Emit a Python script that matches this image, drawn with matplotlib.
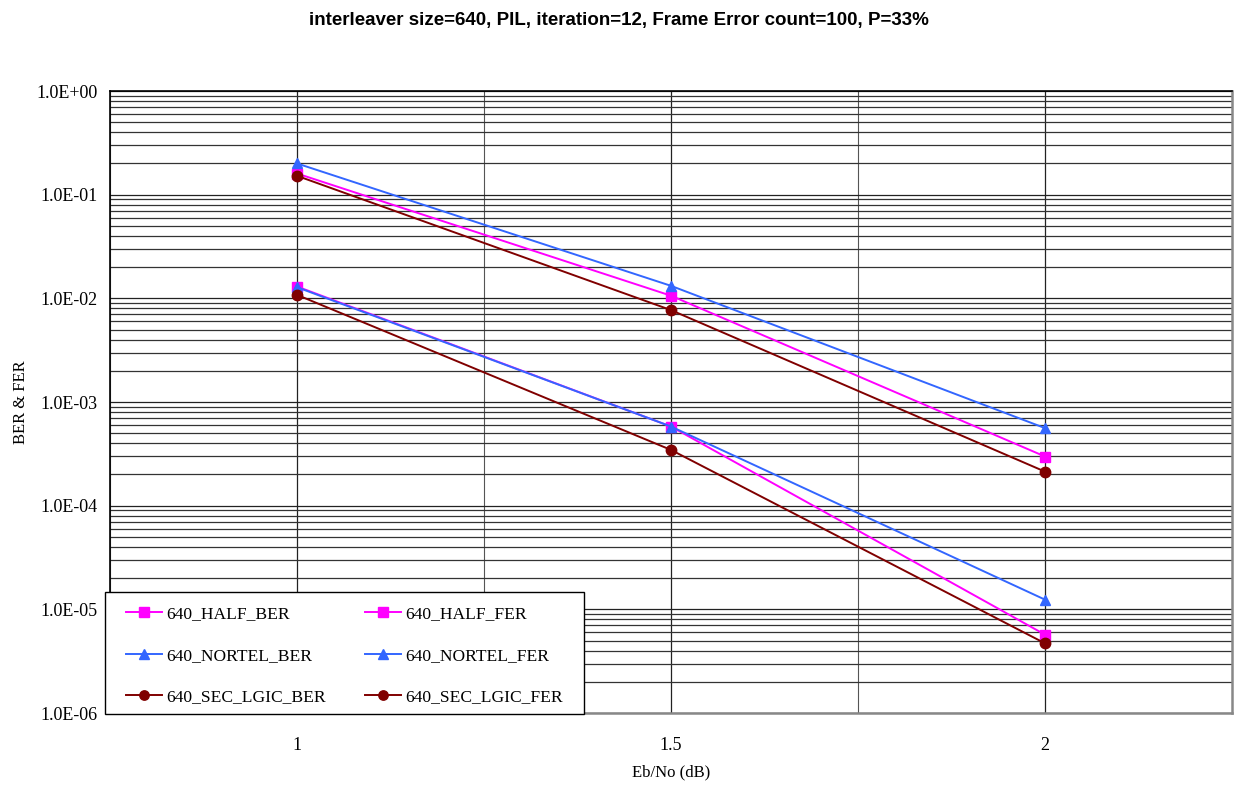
import numpy as np
import matplotlib
matplotlib.use("Agg")
import matplotlib.pyplot as plt
from matplotlib.patches import Rectangle
from matplotlib.ticker import FixedLocator, LogLocator, NullFormatter

ebno = [1.0, 1.5, 2.0]

half_ber = [1.30e-2, 5.8e-4, 5.7e-6]
nortel_ber = [1.28e-2, 5.8e-4, 1.24e-5]
sec_ber = [1.08e-2, 3.45e-4, 4.7e-6]

half_fer = [1.60e-1, 1.06e-2, 2.98e-4]
nortel_fer = [2.00e-1, 1.32e-2, 5.6e-4]
sec_fer = [1.52e-1, 7.7e-3, 2.13e-4]

labels = ["640_HALF_BER", "640_NORTEL_BER", "640_SEC_LGIC_BER",
          "640_HALF_FER", "640_NORTEL_FER", "640_SEC_LGIC_FER"]
series = [half_ber, nortel_ber, sec_ber, half_fer, nortel_fer, sec_fer]
colors = ["#FF00FF", "#3366FF", "#800000"] * 2
markers = ["s", "^", "o"] * 2

yticklabels = ["1.0E-06", "1.0E-05", "1.0E-04", "1.0E-03", "1.0E-02", "1.0E-01", "1.0E+00"]

serif = ["Liberation Serif", "DejaVu Serif"]
W, H = 1237, 787

fig = plt.figure(figsize=(W / 100, H / 100), dpi=100)
ax = fig.add_axes([110 / W, 1 - 713 / H, (1232 - 110) / W, (713 - 91) / H])

for vals, lab, c, m in zip(series, labels, colors, markers):
    ax.plot(ebno, vals, color=c, marker=m, markersize=7.5, lw=1.4, label=lab, zorder=3)

ax.set_yscale("log")
ax.set_ylim(1e-6, 1)
ax.set_xlim(0.75, 2.25)

ax.xaxis.set_major_locator(FixedLocator([1.0, 1.5, 2.0]))
ax.xaxis.set_minor_locator(FixedLocator([0.75, 1.25, 1.75]))
ax.set_xticklabels(["1", "1.5", "2"], fontfamily=serif, fontsize=13)
ax.yaxis.set_major_locator(FixedLocator([10.0 ** k for k in range(-6, 1)]))
ax.yaxis.set_minor_locator(LogLocator(base=10, subs=np.arange(2, 10), numticks=20))
ax.yaxis.set_minor_formatter(NullFormatter())
ax.set_yticklabels(yticklabels, fontfamily=serif, fontsize=13)

ax.tick_params(axis="both", which="both", length=0)
ax.tick_params(axis="x", pad=17)
ax.tick_params(axis="y", pad=9)

ax.grid(True, which="major", axis="both", color="#222222", lw=0.9)
ax.grid(True, which="minor", axis="y", color="#333333", lw=0.9)
ax.grid(True, which="minor", axis="x", color="#555555", lw=0.8)
ax.set_axisbelow(True)

for side in ["left", "top"]:
    ax.spines[side].set_color("black")
    ax.spines[side].set_linewidth(1.2)
for side in ["right", "bottom"]:
    ax.spines[side].set_color("#888888")
    ax.spines[side].set_linewidth(1.8)

ax.set_xlabel("Eb/No (dB)", fontfamily=serif, fontsize=12, labelpad=8)
ax.set_ylabel("BER & FER", fontfamily=serif, fontsize=12, labelpad=5)

fig.suptitle("interleaver size=640, PIL, iteration=12, Frame Error count=100, P=33%",
             fontfamily=["Liberation Sans", "DejaVu Sans"], fontweight="bold",
             fontsize=13.5, y=1 - 20 / H, va="center")

# legend box drawn separately so the padding can differ horizontally / vertically
box = Rectangle((105 / W, 1 - 714 / H), (584 - 105) / W, (714 - 592) / H,
                transform=fig.transFigure, facecolor="white", edgecolor="black",
                lw=1.0, zorder=4)
fig.add_artist(box)
leg = fig.legend(*ax.get_legend_handles_labels(), ncol=2, loc="upper left",
                 bbox_to_anchor=(126 / W, 1 - 606 / H), frameon=False,
                 prop={"family": serif, "size": 12.6}, borderpad=0, borderaxespad=0,
                 handlelength=2.05, markerscale=0.9, labelspacing=1.45,
                 handletextpad=0.25, columnspacing=2.25)
leg.set_zorder(5)

fig.savefig("out.png", dpi=100)
